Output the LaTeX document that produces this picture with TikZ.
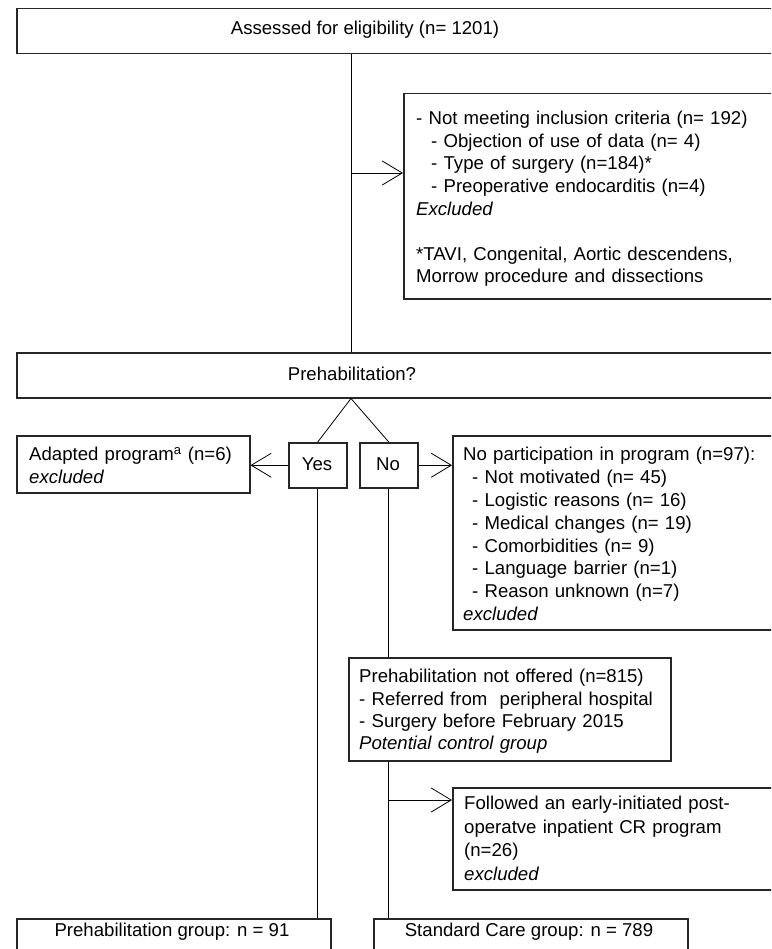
\documentclass[tikz,border=0pt]{standalone}
\usepackage{fontspec}
\setmainfont{Liberation Sans}
\usetikzlibrary{arrows.meta}
\begin{document}
\begin{tikzpicture}[x=1pt,y=-1pt,
  box/.style={draw=black!85,line width=1.5pt,rectangle,inner sep=0pt,anchor=north west},
  lbl/.style={inner sep=0pt,font=\fontsize{18.6}{22.6}\selectfont},
  blk/.style={lbl,anchor=west,align=left,text width=420pt},
  conn/.style={draw=black,line width=0.8pt},
  arr/.style={conn,-{Straight Barb[length=20pt,width=24pt]}}]
\useasboundingbox (0,0) rectangle (771,949);
\clip (0,0) rectangle (771,949);
\fill[white] (0,0) rectangle (771,949);
% boxes
\node[box,minimum width=984pt,minimum height=45pt] (top) at (16,8) {};
\node[lbl] (toplbl) at (365,30) {Assessed for eligibility (n= 1201)};
\node[box,minimum width=597pt,minimum height=205pt] (excl) at (403,93) {};
\node[blk] (excllbl) at (416,199) {- Not meeting inclusion criteria (n= 192)\\
\hspace*{15pt}- Objection of use of data (n= 4)\\
\hspace*{15pt}- Type of surgery (n=184)*\\
\hspace*{15pt}- Preoperative endocarditis (n=4)\\
\textit{Excluded}\\
\mbox{}\\
{*}TAVI, Congenital, Aortic descendens,\\
Morrow procedure and dissections};
\node[box,minimum width=984pt,minimum height=45pt] (prehab) at (16,352) {};
\node[lbl] (prehablbl) at (352,374) {Prehabilitation?};
\node[box,minimum width=233pt,minimum height=57pt] (adapted) at (16,435) {};
\node[blk] (adaptedlbl) at (29,465.5) {Adapted program\textsuperscript{a} (n=6)\\ \textit{excluded}};
\node[box,minimum width=58pt,minimum height=45pt] (yes) at (288,442) {};
\node[lbl] (yeslbl) at (317,464.5) {Yes};
\node[box,minimum width=58pt,minimum height=45pt] (no) at (359,442) {};
\node[lbl] (nolbl) at (388,464.5) {No};
\node[box,minimum width=548pt,minimum height=194pt] (nopart) at (452,435) {};
\node[blk,font=\fontsize{18.6}{22.9}\selectfont] (nopartlbl) at (463,534) {No participation in program (n=97):\\
\hspace*{9pt}- Not motivated (n= 45)\\
\hspace*{9pt}- Logistic reasons (n= 16)\\
\hspace*{9pt}- Medical changes (n= 19)\\
\hspace*{9pt}- Comorbidities (n= 9)\\
\hspace*{9pt}- Language barrier (n=1)\\
\hspace*{9pt}- Reason unknown (n=7)\\
\textit{excluded}};
\node[box,minimum width=322pt,minimum height=103pt] (notoff) at (348,657) {};
\node[blk,font=\fontsize{18.6}{22.3}\selectfont] (notofflbl) at (359,711.5) {Prehabilitation not offered (n=815)\\
- Referred from\ \ peripheral hospital\\
- Surgery before February 2015\\
\textit{Potential control group}};
\node[box,minimum width=548pt,minimum height=102pt] (followed) at (452,787) {};
\node[blk,font=\fontsize{18.6}{23.5}\selectfont] (followedlbl) at (464,838.5) {Followed an early-initiated post-\\
operatve inpatient CR program\\
(n=26)\\
\textit{excluded}};
\node[box,minimum width=314pt,minimum height=100pt] (prehabgrp) at (16,918) {};
\node[lbl] (prehabgrplbl) at (172,932) {Prehabilitation group: n = 91};
\node[box,minimum width=314pt,minimum height=100pt] (stdgrp) at (373,918) {};
\node[lbl] (stdgrplbl) at (529,932) {Standard Care group: n = 789};
% connectors
\coordinate (m) at (351,0);
\coordinate (a1) at (0,173);
\coordinate (a2) at (0,800);
\draw[conn] (top.south -| m) -- (prehab.north -| m);
\draw[arr] (m |- a1) -- (excl.west |- a1);
\draw[conn] (prehab.south -| m) -- (yes.north);
\draw[conn] (prehab.south -| m) -- (no.north);
\draw[arr] (yes.west) -- (adapted.east |- yes.west);
\draw[arr] (no.east) -- (nopart.west |- no.east);
\draw[conn] (yes.south) -- (prehabgrp.north -| yes.south);
\draw[conn] (no.south) -- (notoff.north -| no.south);
\draw[conn] (notoff.south -| no.south) -- (stdgrp.north -| no.south);
\draw[arr] (no.south |- a2) -- (followed.west |- a2);
\end{tikzpicture}
\end{document}
